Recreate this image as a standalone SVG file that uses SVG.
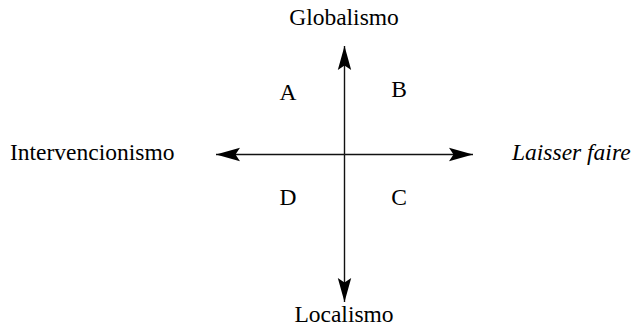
<svg xmlns="http://www.w3.org/2000/svg" width="638" height="329" viewBox="0 0 638 329">
<style>
text{font-family:'Liberation Serif','Times New Roman',Times,serif;font-size:23.5px;fill:#000}
.it{font-style:italic}
.axis{stroke:#111;stroke-width:1.4;fill:none}
</style>
<defs>
<marker id="ah" markerUnits="userSpaceOnUse" viewBox="-25 -8 26 16" refX="0" refY="0" markerWidth="26" markerHeight="16" orient="auto">
<path d="M0,0 L-24,-6.7 L-19.5,0 L-24,6.7 Z" fill="#000"/>
</marker>
</defs>
<rect width="638" height="329" fill="#fff"/>
<g id="connectors">
<line class="axis" x1="344.5" y1="154.5" x2="344.5" y2="46" marker-end="url(#ah)"/>
<line class="axis" x1="344.5" y1="154.5" x2="344.5" y2="302" marker-end="url(#ah)"/>
<line class="axis" x1="344.5" y1="154.5" x2="216" y2="154.5" marker-end="url(#ah)"/>
<line class="axis" x1="344.5" y1="154.5" x2="473" y2="154.5" marker-end="url(#ah)"/>
</g>
<g font-family="Liberation Serif, serif">
<g id="globalismo"><text x="344" y="25" text-anchor="middle">Globalismo</text></g>
<g id="localismo"><text x="344" y="322" text-anchor="middle">Localismo</text></g>
<g id="intervencionismo"><text x="10" y="160">Intervencionismo</text></g>
<g id="laisser-faire"><text class="it" x="512" y="160">Laisser faire</text></g>
<g id="qA"><text x="288" y="99.5" text-anchor="middle">A</text></g>
<g id="qB"><text x="399" y="97" text-anchor="middle">B</text></g>
<g id="qD"><text x="288" y="205" text-anchor="middle">D</text></g>
<g id="qC"><text x="399" y="205" text-anchor="middle">C</text></g>
</g>
</svg>
